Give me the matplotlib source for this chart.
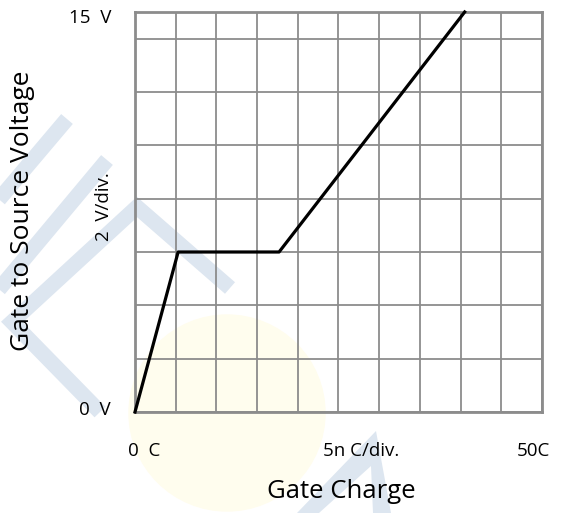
import matplotlib
matplotlib.use('Agg')
import matplotlib.pyplot as plt
from matplotlib.patches import Circle, Polygon
import numpy as np

# gate charge curve (nC, V)
charge_nc = [0, 5.3, 17.7, 40.5]
gate_volt = [0, 6, 6, 15]

x_grid = np.arange(0, 55, 5)
y_grid = [0, 2, 4, 6, 8, 10, 12, 14, 15]

GRID_COLOR = '#8c8c8c'
WM_BLUE = '#dde6f0'

plt.rcParams['font.family'] = ['Open Sans', 'DejaVu Sans']

fig = plt.figure(figsize=(5.66, 5.13), dpi=100)

# watermark (drawn in figure pixels)
bg = fig.add_axes([0, 0, 1, 1])
bg.set_xlim(0, 566)
bg.set_ylim(513, 0)
bg.axis('off')
bg.add_patch(Circle((227, 413), 98, color='#fffdee', zorder=0))
for xs, ys in [([67, -10], [119, 210]),
               ([107, -10], [160, 300]),
               ([230, 137, 12, 100], [288, 207, 322, 412])]:
    bg.plot(xs, ys, color=WM_BLUE, lw=11, solid_capstyle='butt', solid_joinstyle='miter', zorder=0)
bg.add_patch(Polygon([(297, 513), (376, 431), (391, 513), (373, 513), (371, 466), (319, 513)],
                     closed=True, color=WM_BLUE, lw=0, zorder=0))

ax = fig.add_axes([0.2385, 0.1969, 0.7191, 0.7797])
ax.patch.set_alpha(0)
ax.set_xlim(0, 50)
ax.set_ylim(0, 15)
for xv in x_grid:
    ax.axvline(xv, color=GRID_COLOR, lw=1.3, zorder=1)
for yv in y_grid:
    ax.axhline(yv, color=GRID_COLOR, lw=1.3, zorder=1)
for s in ax.spines.values():
    s.set_color(GRID_COLOR)
    s.set_linewidth(2)
ax.set_xticks([])
ax.set_yticks([])

ax.plot(charge_nc, gate_volt, color='black', lw=2.3, zorder=3, clip_on=False)

fs = 13.5
fig.text(69 / 566, 1 - 18 / 513, '15  V', fontsize=fs, ha='left', va='center')
fig.text(79 / 566, 1 - 410 / 513, '0  V', fontsize=fs, ha='left', va='center')
fig.text(128 / 566, 1 - 451 / 513, '0  C', fontsize=fs, ha='left', va='center')
fig.text(323 / 566, 1 - 451 / 513, '5n C/div.', fontsize=fs, ha='left', va='center')
fig.text(517 / 566, 1 - 451 / 513, '50C', fontsize=fs, ha='left', va='center')
fig.text(104 / 566, 1 - 207 / 513, '2  V/div.', fontsize=fs, rotation=90, ha='center', va='center')
fig.text(341 / 566, 1 - 492 / 513, 'Gate Charge', fontsize=18.5, ha='center', va='center')
fig.text(23 / 566, 1 - 211 / 513, 'Gate to Source Voltage', fontsize=19, rotation=90,
         ha='center', va='center')

fig.savefig('out.png', dpi=100)
